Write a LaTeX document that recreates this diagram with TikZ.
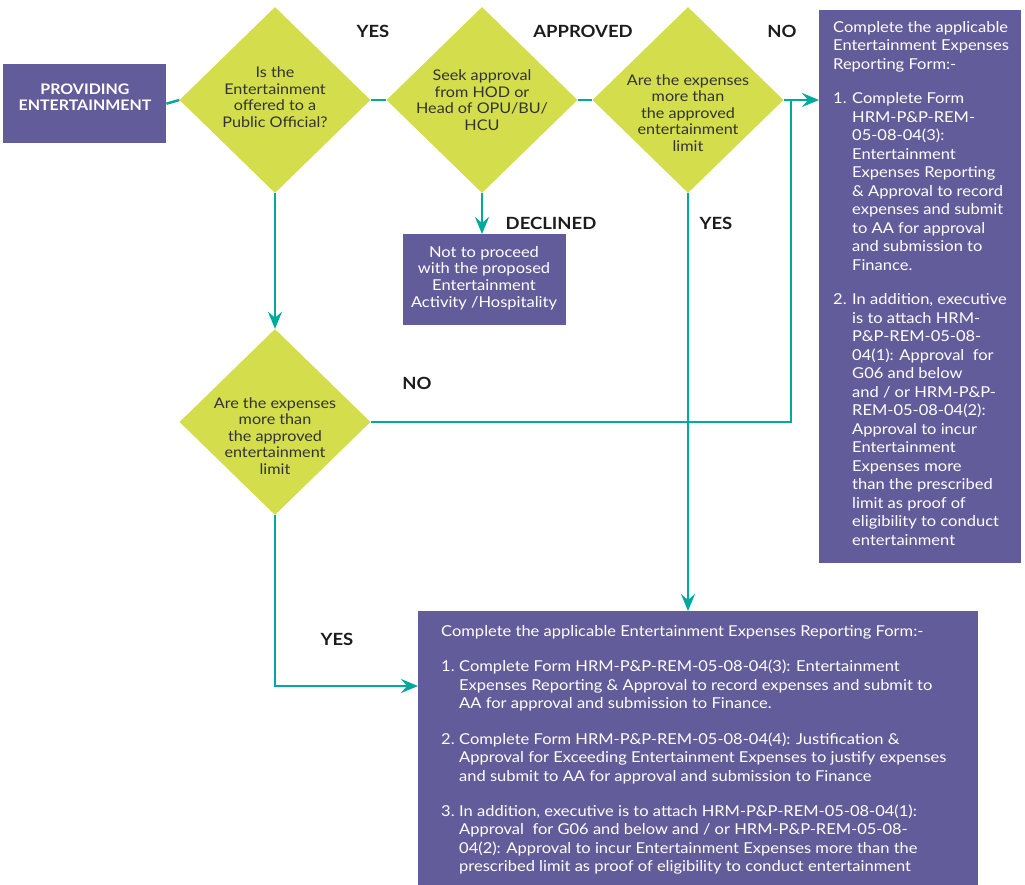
\documentclass[tikz,border=0pt]{standalone}
\usepackage{fontspec}
\setmainfont{Lato}[FakeStretch=1.1]
\usetikzlibrary{shapes.geometric,arrows.meta,calc}
\definecolor{purp}{HTML}{635C9A}
\definecolor{lime}{HTML}{D4DE4C}
\definecolor{tealc}{HTML}{00A99D}
\definecolor{dtext}{HTML}{333333}
\definecolor{ltext}{HTML}{1C1C1C}
\begin{document}
\begin{tikzpicture}[x=1pt,y=-1pt,
  box/.style={fill=purp, draw=none, inner sep=0pt, anchor=north west},
  dia/.style={diamond, fill=lime, draw=none, inner sep=0pt, minimum width=191pt, minimum height=186pt},
  dtxt/.style={text=dtext, align=center, inner sep=0pt, font=\fontsize{14.7}{16.5}\selectfont},
  wtxt/.style={text=white, align=center, inner sep=0pt, font=\fontsize{15}{16.7}\selectfont},
  ltxt/.style={text=white, inner sep=0pt, anchor=base west},
  lbl/.style={text=ltext, inner sep=0pt, font=\bfseries\fontsize{16.8}{20}\selectfont},
  conn/.style={draw=tealc, line width=2.5pt},
  arr/.style={conn, -{Stealth[length=17pt,width=14pt,inset=6pt]}}
]
\useasboundingbox (0,0) rectangle (1025,885);
\fill[white] (0,0) rectangle (1025,885);

% boxes
\node[box, minimum width=163pt, minimum height=79pt] (start) at (3,64) {};
\node[box, minimum width=163pt, minimum height=91pt] (decl) at (403,234) {};
\node[box, minimum width=202pt, minimum height=553pt] (rbox) at (819,10) {};
\node[box, minimum width=560pt, minimum height=274pt] (bbox) at (418,611) {};

% diamonds
\node[dia] (d1) at (275,100) {};
\node[dia] (d2) at (482,100) {};
\node[dia] (d3) at (688,100) {};
\node[dia] (d4) at (275,422) {};

% texts
\node[wtxt, font=\bfseries\fontsize{14.5}{16.5}\selectfont] (tstart) at (85,97) {PROVIDING\\ENTERTAINMENT};
\node[dtxt] (t1) at (275,97) {Is the\\Entertainment\\offered to a\\Public Official?};
\node[dtxt] (t2) at (482,100) {Seek approval\\from HOD or\\Head of OPU/BU/\\HCU};
\node[dtxt] (t3) at (688,113) {Are the expenses\\more than\\the approved\\entertainment\\limit};
\node[dtxt] (t4) at (275,436) {Are the expenses\\more than\\the approved\\entertainment\\limit};
\node[wtxt] (tdecl) at (484,278) {Not to proceed\\with the proposed\\Entertainment\\Activity /Hospitality};

\node[ltxt, font=\fontsize{15}{18.5}\selectfont] (tr) at (833,32.5) {%
\begin{tabular}[t]{@{}p{19pt}@{}l@{}}
\multicolumn{2}{@{}l@{}}{Complete the applicable}\\
\multicolumn{2}{@{}l@{}}{Entertainment Expenses}\\
\multicolumn{2}{@{}l@{}}{Reporting Form:-}\\[16pt]
1. & Complete Form\\
 & HRM-P\&P-REM-\\
 & 05-08-04(3):\\
 & Entertainment\\
 & Expenses Reporting\\
 & \& Approval to record\\
 & expenses and submit\\
 & to AA for approval\\
 & and submission to\\
 & Finance.\\[16pt]
2. & In addition, executive\\
 & is to attach HRM-\\
 & P\&P-REM-05-08-\\
 & 04(1): Approval\ \ for\\
 & G06 and below\\
 & and / or HRM-P\&P-\\
 & REM-05-08-04(2):\\
 & Approval to incur\\
 & Entertainment\\
 & Expenses more\\
 & than the prescribed\\
 & limit as proof of\\
 & eligibility to conduct\\
 & entertainment
\end{tabular}};

\node[ltxt, font=\fontsize{15}{18.5}\selectfont] (tb) at (441,636.5) {%
\begin{tabular}[t]{@{}p{18pt}@{}l@{}}
\multicolumn{2}{@{}l@{}}{Complete the applicable Entertainment Expenses Reporting Form:-}\\[16.5pt]
1. & Complete Form HRM-P\&P-REM-05-08-04(3): Entertainment\\
 & Expenses Reporting \& Approval to record expenses and submit to\\
 & AA for approval and submission to Finance.\\[17pt]
2. & Complete Form HRM-P\&P-REM-05-08-04(4): Justification \&\\
 & Approval for Exceeding Entertainment Expenses to justify expenses\\
 & and submit to AA for approval and submission to Finance\\[16.5pt]
3. & In addition, executive is to attach HRM-P\&P-REM-05-08-04(1):\\
 & Approval\ \ for G06 and below and / or HRM-P\&P-REM-05-08-\\
 & 04(2): Approval to incur Entertainment Expenses more than the\\
 & prescribed limit as proof of eligibility to conduct entertainment
\end{tabular}};

% labels
\node[lbl] (lyes1) at (373,31) {YES};
\node[lbl] (lappr) at (583,31) {APPROVED};
\node[lbl] (lno1) at (782,31) {NO};
\node[lbl] (ldecl) at (551,223) {DECLINED};
\node[lbl] (lyes2) at (716,223) {YES};
\node[lbl] (lno2) at (417,383) {NO};
\node[lbl] (lyes3) at (337,639) {YES};

% connectors
\coordinate (j) at (791,100);
\coordinate (bin) at ([yshift=-75pt]bbox.north west);
\draw[conn] (start.east) -- (d1.west);
\draw[conn] (d1.east) -- (d2.west);
\draw[conn] (d2.east) -- (d3.west);
\draw[arr] (d3.east) -- (rbox.west |- d3.east);
\draw[arr] (d2.south) -- (d2.south |- decl.north);
\draw[arr] (d1.south) -- (d4.north);
\draw[conn] (d4.east) -| (j);
\draw[arr] (d3.south) -- (d3.south |- bbox.north);
\draw[arr] (d4.south) |- (bin);
\end{tikzpicture}
\end{document}
